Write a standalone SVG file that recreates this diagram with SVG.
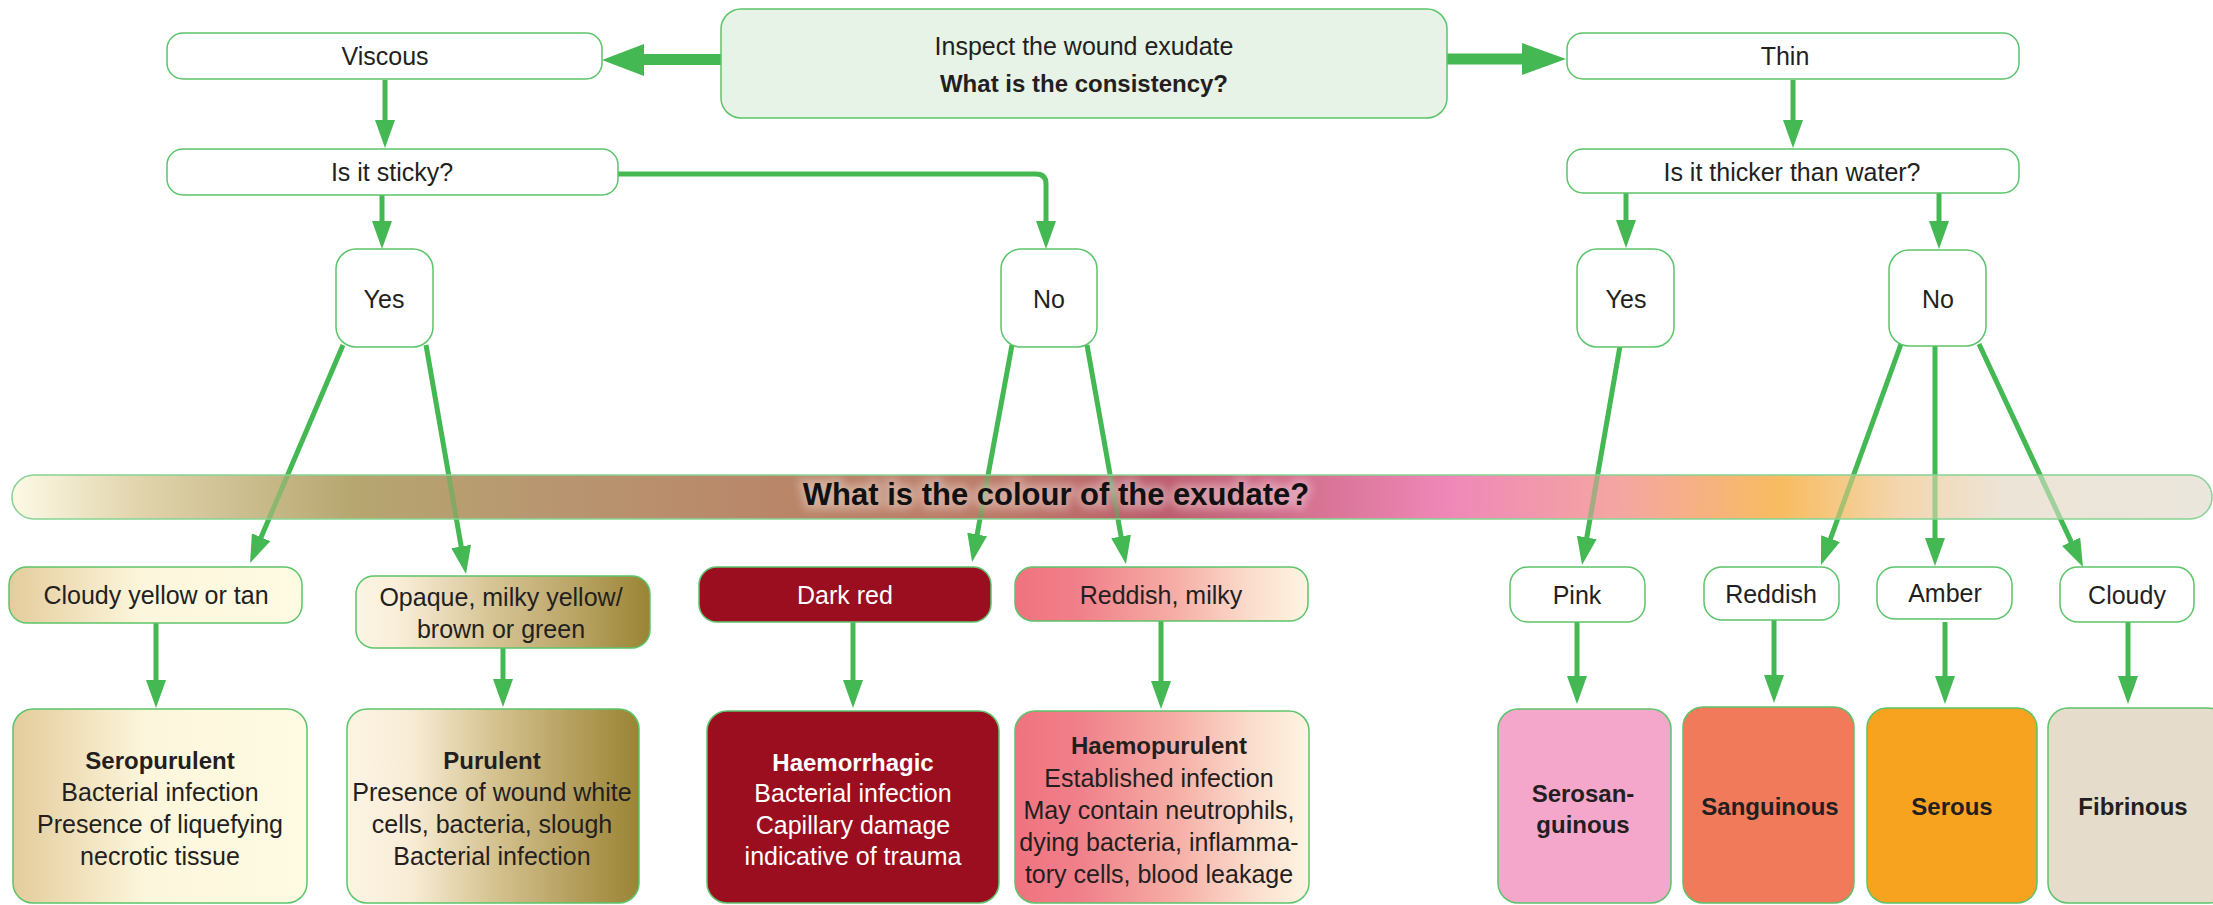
<svg xmlns="http://www.w3.org/2000/svg" width="2213" height="905" viewBox="0 0 2213 905">
<style>
.box{stroke:#5cc46a;stroke-width:1.5}
.w{fill:#ffffff}
.t{font-family:"Liberation Sans",Arial,sans-serif;font-size:25px;fill:#231f20;text-anchor:middle}
.b{font-weight:bold;font-size:24px}
.wt{fill:#ffffff}
.c{fill:none;stroke:#43b853;stroke-width:5}
.thick{fill:none;stroke:#43b853;stroke-width:11}
.head{fill:#43b853}
</style>
<defs>
<marker id="ah" markerUnits="userSpaceOnUse" markerWidth="28" markerHeight="20" refX="3" refY="10" orient="auto">
<path d="M0,0 L28,10 L0,20 z" fill="#43b853"/>
</marker>
<linearGradient id="gBar" x1="0" y1="0" x2="1" y2="0">
<stop offset="0" stop-color="#fdf9e6"/>
<stop offset="0.06" stop-color="#e0d3ab"/>
<stop offset="0.155" stop-color="#b6a670"/>
<stop offset="0.25" stop-color="#b89570"/>
<stop offset="0.347" stop-color="#b98669"/>
<stop offset="0.45" stop-color="#bc7a68"/>
<stop offset="0.52" stop-color="#bb5c6c"/>
<stop offset="0.585" stop-color="#d4708f"/>
<stop offset="0.654" stop-color="#ef88b8"/>
<stop offset="0.731" stop-color="#f4a6a2"/>
<stop offset="0.804" stop-color="#f8bc60"/>
<stop offset="0.858" stop-color="#f3d6ad"/>
<stop offset="0.904" stop-color="#ece4d6"/>
<stop offset="1" stop-color="#ebe6dc"/>
</linearGradient>
<linearGradient id="gTan" x1="0" y1="0" x2="1" y2="0">
<stop offset="0" stop-color="#e4cc9c"/>
<stop offset="0.45" stop-color="#fcf6dc"/>
<stop offset="1" stop-color="#fefbe2"/>
</linearGradient>
<linearGradient id="gOlive" x1="0" y1="0" x2="1" y2="0">
<stop offset="0" stop-color="#fcf5e4"/>
<stop offset="0.15" stop-color="#f8eed8"/>
<stop offset="0.45" stop-color="#d8c698"/>
<stop offset="0.75" stop-color="#b9a465"/>
<stop offset="1" stop-color="#9a8434"/>
</linearGradient>
<linearGradient id="gOlive2" x1="0" y1="0" x2="1" y2="0">
<stop offset="0" stop-color="#fcf4e4"/>
<stop offset="0.22" stop-color="#f8ecd6"/>
<stop offset="0.5" stop-color="#d5c391"/>
<stop offset="0.75" stop-color="#b8a263"/>
<stop offset="1" stop-color="#9a8434"/>
</linearGradient>
<linearGradient id="gPink" x1="0" y1="0" x2="1" y2="0">
<stop offset="0" stop-color="#f0737f"/>
<stop offset="0.22" stop-color="#f0808a"/>
<stop offset="0.55" stop-color="#f6aea6"/>
<stop offset="0.8" stop-color="#fbdccc"/>
<stop offset="1" stop-color="#fdf5e2"/>
</linearGradient>
<filter id="glow" x="-10%" y="-50%" width="120%" height="200%">
<feGaussianBlur stdDeviation="4"/>
</filter>
</defs>
<rect width="2213" height="905" fill="#ffffff"/>

<rect id="colour-bar-base" x="12" y="475" width="2200" height="44" rx="22" fill="url(#gBar)"/>

<g id="connectors">
<line class="thick" x1="721" y1="59.5" x2="640" y2="59.5"/>
<polygon class="head" points="644,44 602,60 644,76"/>
<line class="thick" x1="1447" y1="59" x2="1526" y2="59"/>
<polygon class="head" points="1522,43 1566,59 1522,75"/>
<line class="c" x1="385" y1="80" x2="385" y2="123" marker-end="url(#ah)"/>
<line class="c" x1="382" y1="195" x2="382" y2="224" marker-end="url(#ah)"/>
<path class="c" d="M618,174 H1036 Q1046,174 1046,184 V224" marker-end="url(#ah)"/>
<line class="c" x1="1793" y1="80" x2="1793" y2="123" marker-end="url(#ah)"/>
<line class="c" x1="1626" y1="193" x2="1626" y2="223" marker-end="url(#ah)"/>
<line class="c" x1="1939" y1="193" x2="1939" y2="224" marker-end="url(#ah)"/>
<line class="c" x1="343" y1="345" x2="259.9" y2="540" marker-end="url(#ah)"/>
<line class="c" x1="426" y1="345" x2="461.7" y2="549.4" marker-end="url(#ah)"/>
<line class="c" x1="1012" y1="345" x2="976.6" y2="537.4" marker-end="url(#ah)"/>
<line class="c" x1="1087" y1="345" x2="1121.6" y2="539.4" marker-end="url(#ah)"/>
<line class="c" x1="1620" y1="346" x2="1586.3" y2="540.4" marker-end="url(#ah)"/>
<line class="c" x1="1901" y1="344" x2="1829.5" y2="541.5" marker-end="url(#ah)"/>
<line class="c" x1="1935" y1="346" x2="1935" y2="541" marker-end="url(#ah)"/>
<line class="c" x1="1979" y1="344" x2="2072.4" y2="544.4" marker-end="url(#ah)"/>
<line class="c" x1="156" y1="623" x2="156" y2="683" marker-end="url(#ah)"/>
<line class="c" x1="503" y1="648" x2="503" y2="682" marker-end="url(#ah)"/>
<line class="c" x1="853" y1="622" x2="853" y2="683" marker-end="url(#ah)"/>
<line class="c" x1="1161" y1="621" x2="1161" y2="684" marker-end="url(#ah)"/>
<line class="c" x1="1577" y1="622" x2="1577" y2="679" marker-end="url(#ah)"/>
<line class="c" x1="1774" y1="620" x2="1774" y2="678" marker-end="url(#ah)"/>
<line class="c" x1="1945" y1="622" x2="1945" y2="679" marker-end="url(#ah)"/>
<line class="c" x1="2128" y1="622" x2="2128" y2="679" marker-end="url(#ah)"/>
</g>

<g id="colour-bar">
<rect x="12" y="475" width="2200" height="44" rx="22" fill="url(#gBar)" fill-opacity="0.55" stroke="#86d392" stroke-width="1.5"/>
<text x="1056" y="505" class="t b" style="font-size:31px;fill:#ffffff;stroke:#ffffff;stroke-width:8;opacity:0.35" filter="url(#glow)">What is the colour of the exudate?</text>
<text x="1056" y="505" class="t b" style="font-size:31px;fill:#111111">What is the colour of the exudate?</text>
</g>

<g id="n-start">
<rect class="box" x="721" y="9" width="726" height="109" rx="20" fill="#e6f3e6"/>
<text class="t" x="1084" y="55">Inspect the wound exudate</text>
<text class="t b" x="1084" y="92">What is the consistency?</text>
</g>
<g id="n-viscous">
<rect class="box w" x="167" y="33" width="435" height="46" rx="16"/>
<text class="t" x="385" y="65">Viscous</text>
</g>
<g id="n-sticky">
<rect class="box w" x="167" y="149" width="451" height="46" rx="16"/>
<text class="t" x="392" y="181">Is it sticky?</text>
</g>
<g id="n-yes-l">
<rect class="box w" x="336" y="249" width="97" height="98" rx="20"/>
<text class="t" x="384" y="308">Yes</text>
</g>
<g id="n-no-l">
<rect class="box w" x="1001" y="249" width="96" height="98" rx="20"/>
<text class="t" x="1049" y="308">No</text>
</g>
<g id="n-thin">
<rect class="box w" x="1567" y="33" width="452" height="46" rx="16"/>
<text class="t" x="1785" y="65">Thin</text>
</g>
<g id="n-thicker">
<rect class="box w" x="1567" y="149" width="452" height="44" rx="16"/>
<text class="t" x="1792" y="181">Is it thicker than water?</text>
</g>
<g id="n-yes-r">
<rect class="box w" x="1577" y="249" width="97" height="98" rx="20"/>
<text class="t" x="1626" y="308">Yes</text>
</g>
<g id="n-no-r">
<rect class="box w" x="1889" y="250" width="97" height="96" rx="20"/>
<text class="t" x="1938" y="308">No</text>
</g>

<g id="n-cloudy-yellow">
<rect class="box" x="9" y="567" width="293" height="56" rx="18" fill="url(#gTan)"/>
<text class="t" x="156" y="604">Cloudy yellow or tan</text>
</g>
<g id="n-opaque">
<rect class="box" x="356" y="576" width="294" height="72" rx="18" fill="url(#gOlive)"/>
<text class="t" x="501" y="606">Opaque, milky yellow/</text>
<text class="t" x="501" y="638">brown or green</text>
</g>
<g id="n-dark-red">
<rect class="box" x="699" y="567" width="292" height="55" rx="18" fill="#9b0e20"/>
<text class="t wt" x="845" y="604">Dark red</text>
</g>
<g id="n-reddish-milky">
<rect class="box" x="1015" y="567" width="293" height="54" rx="18" fill="url(#gPink)"/>
<text class="t" x="1161" y="604">Reddish, milky</text>
</g>
<g id="n-pink">
<rect class="box w" x="1510" y="567" width="135" height="55" rx="18"/>
<text class="t" x="1577" y="604">Pink</text>
</g>
<g id="n-reddish">
<rect class="box w" x="1704" y="567" width="135" height="53" rx="18"/>
<text class="t" x="1771" y="603">Reddish</text>
</g>
<g id="n-amber">
<rect class="box w" x="1877" y="567" width="135" height="52" rx="18"/>
<text class="t" x="1945" y="602">Amber</text>
</g>
<g id="n-cloudy">
<rect class="box w" x="2060" y="567" width="134" height="55" rx="18"/>
<text class="t" x="2127" y="604">Cloudy</text>
</g>

<g id="n-seropurulent">
<rect class="box" x="13" y="709" width="294" height="194" rx="20" fill="url(#gTan)"/>
<text class="t b" x="160" y="769">Seropurulent</text>
<text class="t" x="160" y="801">Bacterial infection</text>
<text class="t" x="160" y="833">Presence of liquefying</text>
<text class="t" x="160" y="865">necrotic tissue</text>
</g>
<g id="n-purulent">
<rect class="box" x="347" y="709" width="292" height="194" rx="20" fill="url(#gOlive2)"/>
<text class="t b" x="492" y="769">Purulent</text>
<text class="t" x="492" y="801">Presence of wound white</text>
<text class="t" x="492" y="833">cells, bacteria, slough</text>
<text class="t" x="492" y="865">Bacterial infection</text>
</g>
<g id="n-haemorrhagic">
<rect class="box" x="707" y="711" width="292" height="192" rx="20" fill="#9b0e20"/>
<text class="t b wt" x="853" y="771">Haemorrhagic</text>
<text class="t wt" x="853" y="802">Bacterial infection</text>
<text class="t wt" x="853" y="834">Capillary damage</text>
<text class="t wt" x="853" y="865">indicative of trauma</text>
</g>
<g id="n-haemopurulent">
<rect class="box" x="1015" y="711" width="294" height="192" rx="20" fill="url(#gPink)"/>
<text class="t b" x="1159" y="754">Haemopurulent</text>
<text class="t" x="1159" y="787">Established infection</text>
<text class="t" x="1159" y="819">May contain neutrophils,</text>
<text class="t" x="1159" y="851">dying bacteria, inflamma-</text>
<text class="t" x="1159" y="883">tory cells, blood leakage</text>
</g>
<g id="n-serosanguinous">
<rect class="box" x="1498" y="709" width="173" height="194" rx="20" fill="#f4a7cb"/>
<text class="t b" x="1583" y="802">Serosan-</text>
<text class="t b" x="1583" y="833">guinous</text>
</g>
<g id="n-sanguinous">
<rect class="box" x="1683" y="707" width="171" height="196" rx="20" fill="#f07a5a"/>
<text class="t b" x="1770" y="815">Sanguinous</text>
</g>
<g id="n-serous">
<rect class="box" x="1867" y="708" width="170" height="195" rx="20" fill="#f7a31f"/>
<text class="t b" x="1952" y="815">Serous</text>
</g>
<g id="n-fibrinous">
<rect class="box" x="2048" y="708" width="180" height="195" rx="20" fill="#e5dccc"/>
<text class="t b" x="2133" y="815">Fibrinous</text>
</g>
</svg>
